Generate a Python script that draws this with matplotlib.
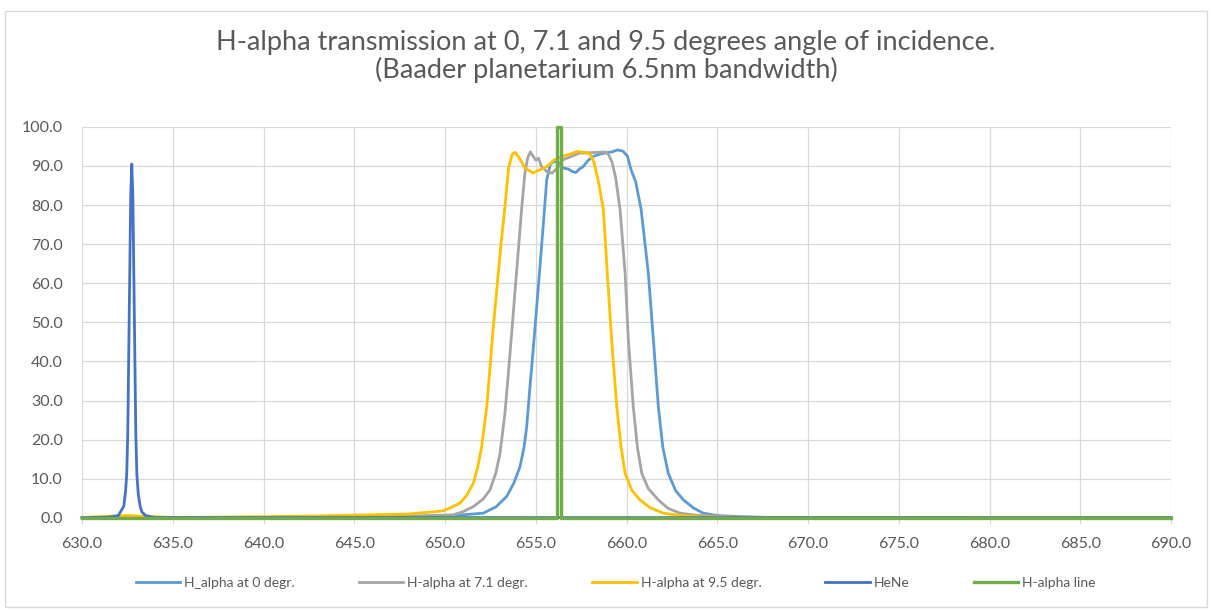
import matplotlib
matplotlib.use("Agg")
import matplotlib.pyplot as plt
from matplotlib.patches import Rectangle

plt.rcParams["font.family"] = ["Lato", "DejaVu Sans"]

# wavelength (nm) / transmission (%)
wl_0deg = [630, 640, 645, 648, 650, 651, 652.1, 652.8, 653.4, 653.8, 654.13, 654.35, 654.5, 654.68,
           654.87, 655.05, 655.23, 655.42, 655.6, 655.8, 656.0, 656.3, 656.5, 656.8, 657.0, 657.2,
           657.4, 657.6, 657.9, 658.15, 658.5, 658.9, 659.2, 659.5, 659.8, 660.05, 660.25, 660.5,
           660.8, 661.2, 661.48, 661.75, 662.0, 662.3, 662.7, 663.13, 663.7, 664.23, 665, 666, 668, 690]
tr_0deg = [0.05, 0.05, 0.1, 0.3, 0.5, 0.8, 1.2, 2.8, 5.5, 9.0, 13.1, 18.0, 23.4, 33.6,
           43.8, 54.0, 64.3, 75.4, 86.4, 90.5, 91.2, 90.8, 89.5, 89.2, 88.6, 88.3,
           89.2, 89.8, 91.5, 92.4, 93.0, 93.4, 93.6, 94.1, 93.8, 92.5, 89.0, 86.0,
           79.0, 62.6, 45.5, 28.5, 18.0, 11.4, 7.0, 4.6, 2.5, 1.2, 0.6, 0.35, 0.1, 0.05]

wl_71deg = [630, 640, 645, 648, 650, 650.46, 651, 651.56, 652.1, 652.48, 652.8, 653.03, 653.3, 653.49,
            653.67, 653.86, 654.04, 654.23, 654.4, 654.55, 654.7, 654.85, 655.0, 655.15, 655.3, 655.6,
            655.9, 656.2, 656.5, 657.0, 657.4, 658.0, 658.4, 658.8, 659.0, 659.2, 659.4, 659.64,
            659.92, 660.1, 660.37, 660.6, 660.84, 661.2, 661.75, 662.3, 662.95, 663.8, 665, 667, 690]
tr_71deg = [0.05, 0.1, 0.3, 0.5, 0.7, 0.8, 1.6, 2.9, 4.8, 7.2, 11.5, 16.5, 26.8, 37.0,
            47.2, 58.3, 68.5, 79.6, 88.2, 92.0, 93.6, 92.5, 91.5, 92.0, 90.0, 88.6,
            88.2, 89.5, 91.6, 92.5, 93.3, 93.4, 93.5, 93.6, 93.0, 91.0, 87.0, 79.0,
            62.6, 45.5, 28.5, 18.0, 11.4, 7.5, 4.6, 2.4, 1.2, 0.7, 0.4, 0.1, 0.05]

wl_95deg = [630, 632.5, 633, 635, 640, 643, 645, 647, 648, 649, 649.9, 650.4, 650.83, 651.2,
            651.56, 651.8, 652.02, 652.3, 652.48, 652.66, 652.85, 653.07, 653.3, 653.5, 653.7, 653.86,
            654.1, 654.4, 654.85, 655.2, 655.6, 656.0, 656.5, 657.0, 657.3, 657.7, 658.0, 658.2,
            658.45, 658.72, 658.94, 659.18, 659.46, 659.7, 659.92, 660.3, 660.74, 661.3, 662.03, 663,
            664, 666, 690]
tr_95deg = [0.1, 0.6, 0.5, 0.1, 0.3, 0.5, 0.7, 0.9, 1.0, 1.4, 1.8, 2.8, 3.8, 5.8,
            8.9, 13.0, 18.2, 28.5, 38.7, 48.9, 58.3, 69.4, 79.6, 89.5, 93.0, 93.5,
            92.0, 89.5, 88.2, 89.0, 89.8, 91.5, 92.5, 93.2, 93.7, 93.5, 93.0, 91.0,
            86.0, 79.0, 62.6, 45.5, 28.5, 18.0, 11.4, 7.0, 4.6, 2.6, 1.2, 0.6,
            0.3, 0.1, 0.05]

wl_hene = [630, 631.5, 632.0, 632.3, 632.4, 632.46, 632.52, 632.6, 632.68, 632.74, 632.8, 632.88,
           632.96, 633.02, 633.1, 633.2, 633.3, 633.5, 634, 690]
tr_hene = [0.05, 0.2, 0.6, 3.0, 7.0, 11.0, 22.0, 52.0, 82.0, 90.5, 82.0, 52.0,
           22.0, 11.0, 6.0, 3.0, 1.5, 0.6, 0.1, 0.05]

wl_line = [630, 656.18, 656.18, 656.38, 656.38, 690]
tr_line = [0, 0, 100, 100, 0, 0]

labels = ["H_alpha at 0 degr.", "H-alpha at 7.1 degr.", "H-alpha at 9.5 degr.", "HeNe", "H-alpha line"]
colors = ["#5B9BD5", "#A5A5A5", "#FFC000", "#4472C4", "#70AD47"]

fig = plt.figure(figsize=(12.12, 6.10), dpi=100)
ax = fig.add_axes([0.0677, 0.151, 0.8985, 0.641])

series = [(wl_0deg, tr_0deg), (wl_71deg, tr_71deg), (wl_95deg, tr_95deg),
          (wl_hene, tr_hene), (wl_line, tr_line)]
for i, ((x, y), lab, c) in enumerate(zip(series, labels, colors)):
    lw = 2.4 if i == 4 else 2.0  # h-alpha line sits on top and a bit thicker
    ax.plot(x, y, color=c, lw=lw, label=lab, solid_joinstyle="round",
            clip_on=False, zorder=2 + i * 0.1)

ax.set_xlim(630, 690)
ax.set_ylim(0, 100)
ax.set_xticks(range(630, 691, 5))
ax.set_yticks(range(0, 101, 10))
ax.set_xticklabels([f"{v:.1f}" for v in range(630, 691, 5)])
ax.set_yticklabels([f"{v:.1f}" for v in range(0, 101, 10)])
ax.grid(True, color="#D9D9D9", lw=0.9)
ax.set_axisbelow(True)
for s in ax.spines.values():
    s.set_visible(False)
ax.tick_params(axis="x", length=4, color="#D9D9D9", labelsize=11.5, labelcolor="#595959", pad=10)
ax.tick_params(axis="y", length=0, labelsize=11.5, labelcolor="#595959", pad=14)

fig.text(0.5, 0.907, "H-alpha transmission at 0, 7.1 and 9.5 degrees angle of incidence.\n"
         "(Baader planetarium 6.5nm bandwidth)", ha="center", va="center",
         fontsize=19.5, color="#595959", linespacing=1.1)

fig.legend(loc="center", bbox_to_anchor=(0.508, 0.045), ncol=5, frameon=False,
           fontsize=10, labelcolor="#595959", handlelength=3.2, handletextpad=0.3,
           columnspacing=4.6)

# light chart border like the excel chart area
fig.patches.append(Rectangle((5 / 1212, 3 / 610), 1202 / 1212, 596 / 610, transform=fig.transFigure,
                             fill=False, edgecolor="#D9D9D9", lw=1))

fig.savefig("out.png", dpi=100)
